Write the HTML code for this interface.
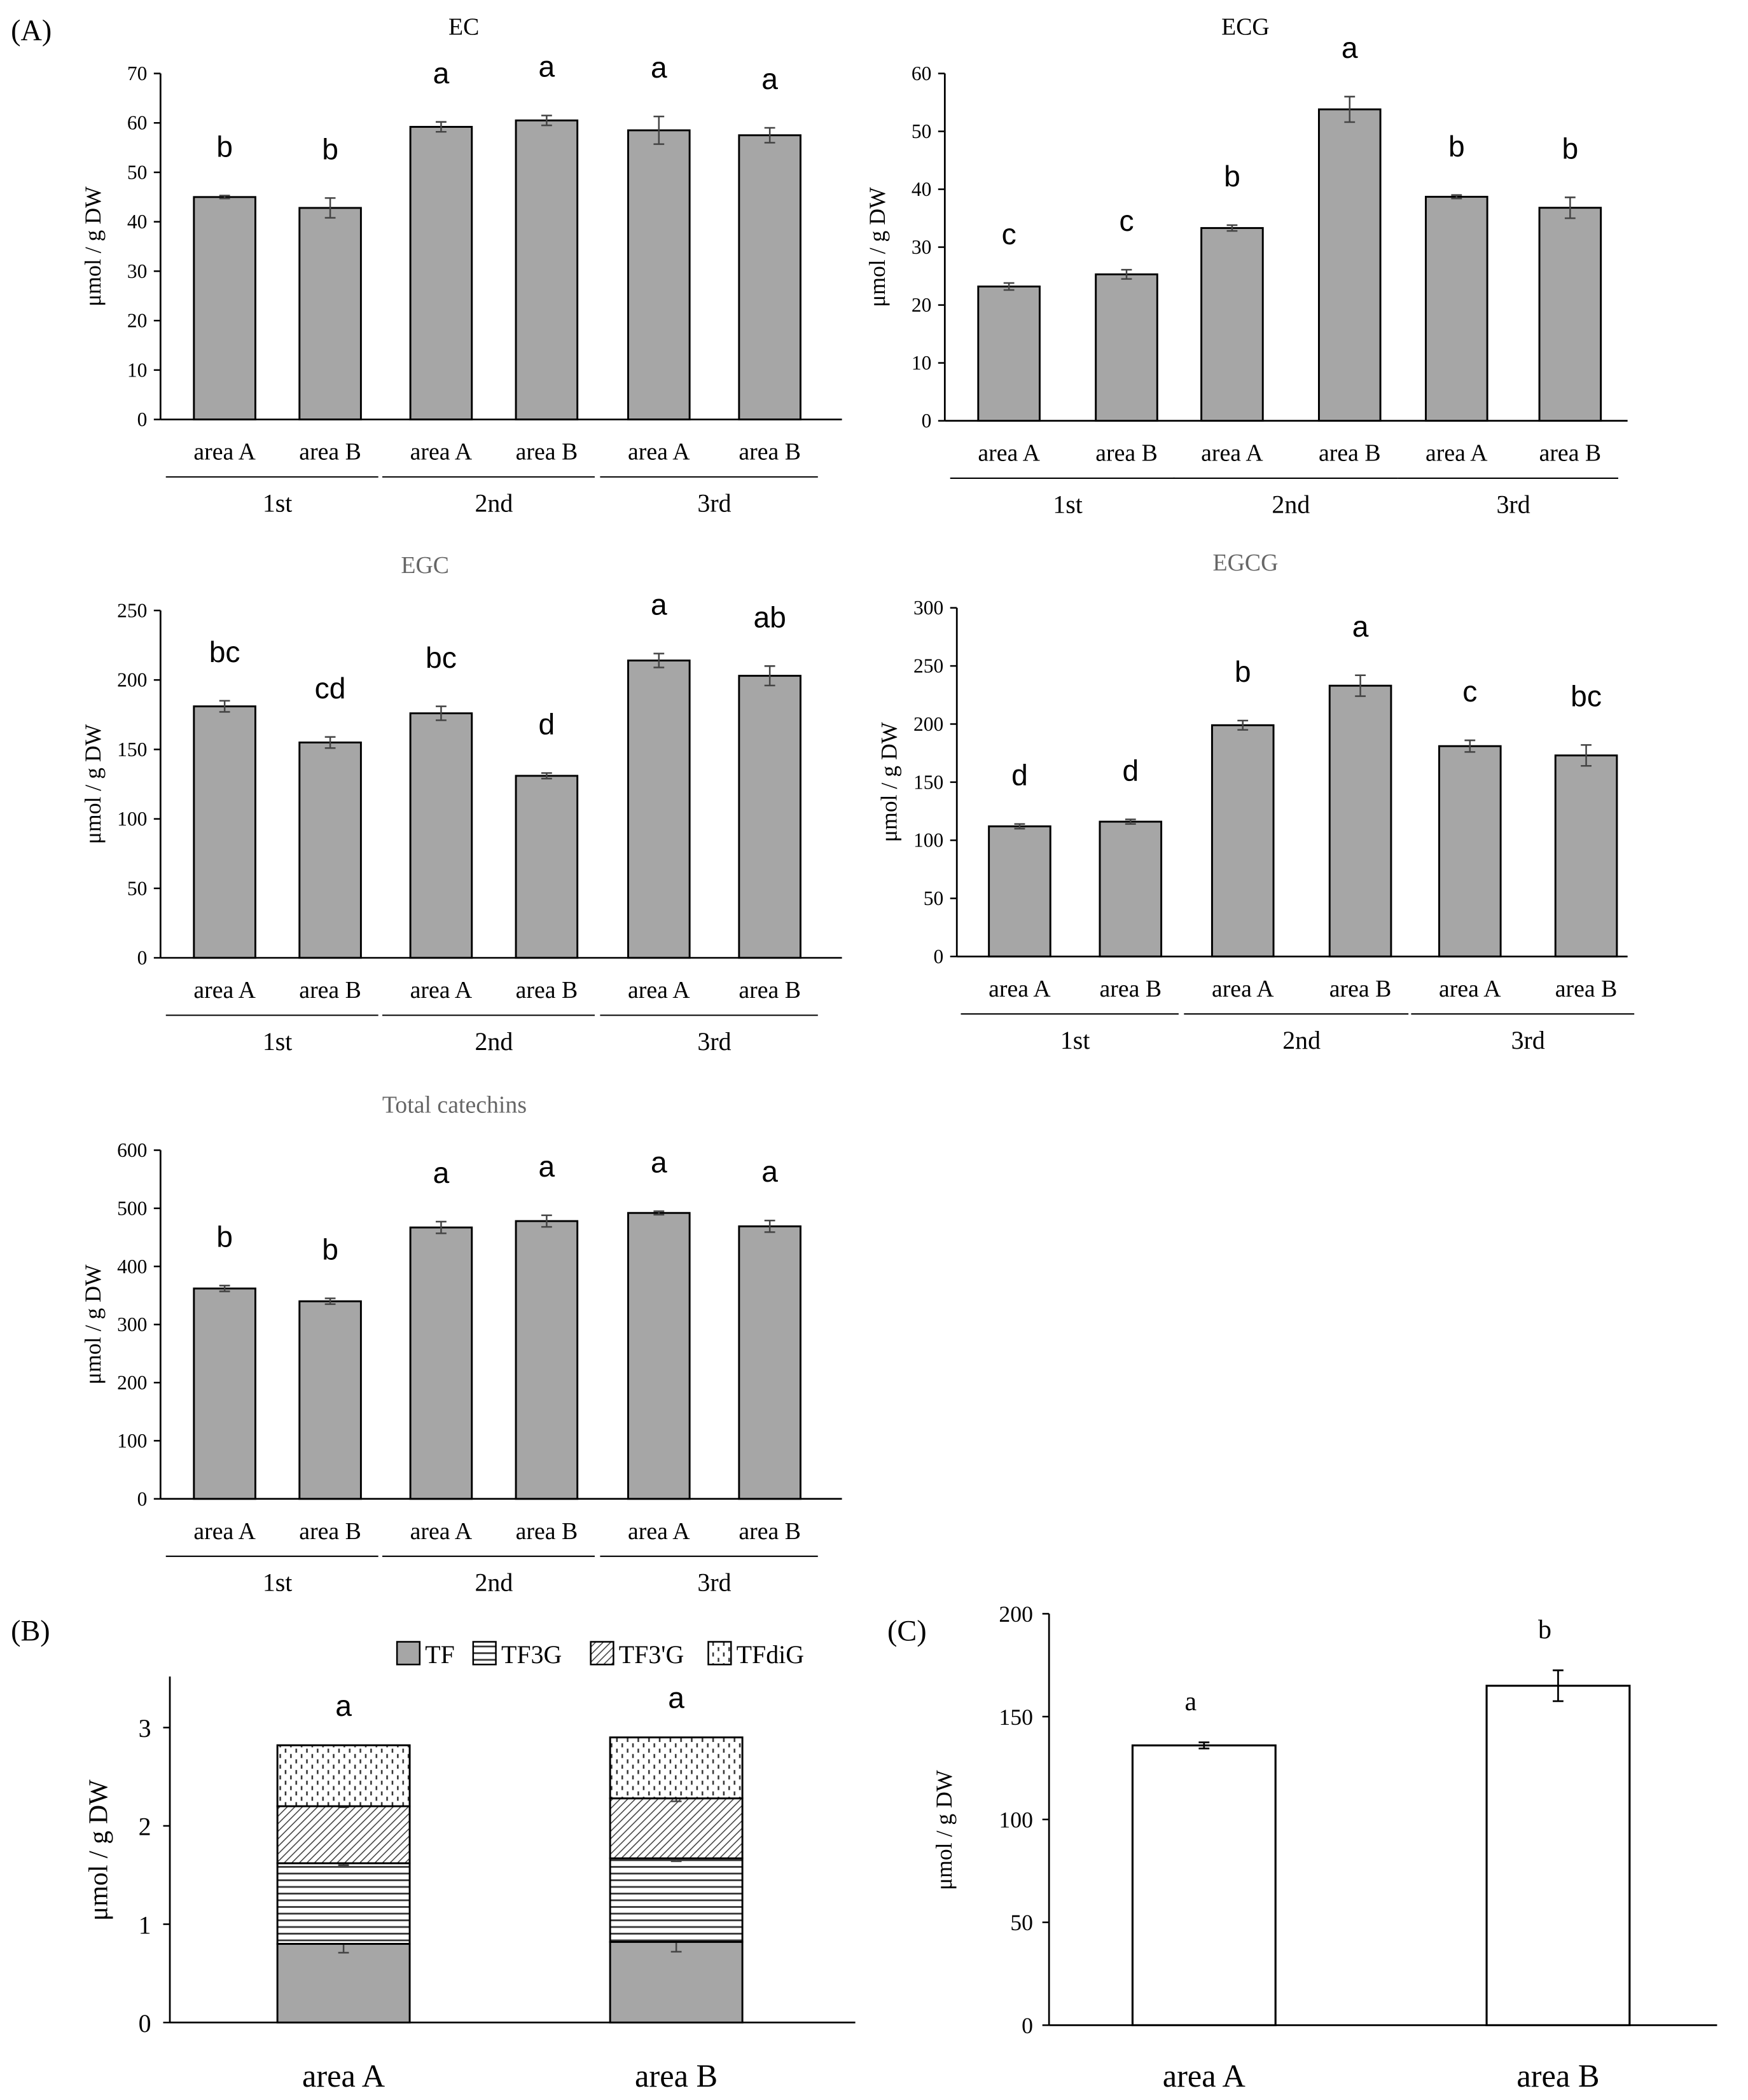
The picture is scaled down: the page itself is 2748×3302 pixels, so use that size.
<!DOCTYPE html>
<html><head><meta charset="utf-8"><style>
html,body{margin:0;padding:0;background:#fff}
svg{display:block}
</style></head><body>
<svg id="fig" width="2748" height="3302" viewBox="0 0 1308 1572" xmlns="http://www.w3.org/2000/svg">
<defs>
<pattern id="pStripe" width="6" height="5" patternUnits="userSpaceOnUse"><rect width="6" height="5" fill="#fff"/><line x1="0" y1="2.5" x2="6" y2="2.5" stroke="#333" stroke-width="1.3"/></pattern>
<pattern id="pDiag" width="4" height="4" patternUnits="userSpaceOnUse" patternTransform="rotate(45)"><rect width="4" height="4" fill="#fff"/><line x1="0" y1="0" x2="0" y2="4" stroke="#444" stroke-width="1.5"/></pattern>
<pattern id="pDot" width="8" height="8" patternUnits="userSpaceOnUse"><rect width="8" height="8" fill="#fff"/><rect x="1" y="1" width="1.2" height="3" fill="#333"/><rect x="5" y="5" width="1.2" height="3" fill="#333"/></pattern>
</defs>
<text x="8" y="30" font-family="Liberation Serif, serif" font-size="22">(A)</text>
<text x="8" y="1228" font-family="Liberation Serif, serif" font-size="22">(B)</text>
<text x="664" y="1228" font-family="Liberation Serif, serif" font-size="22">(C)</text>
</svg>
<script>
// ---- data ----
const catLabels = ["area A","area B","area A","area B","area A","area B"];
const groupLabels = ["1st","2nd","3rd"];
const ecValues = [45, 42.8, 59.2, 60.5, 58.5, 57.5];
const ecErrors = [0.3, 2, 1, 1, 2.8, 1.5];
const ecLetters = ["b","b","a","a","a","a"];
const ecgValues = [23.2, 25.3, 33.3, 53.8, 38.7, 36.8];
const ecgErrors = [0.6, 0.8, 0.5, 2.2, 0.3, 1.8];
const ecgLetters = ["c","c","b","a","b","b"];
const egcValues = [181, 155, 176, 131, 214, 203];
const egcErrors = [4, 4, 5, 2, 5, 7];
const egcLetters = ["bc","cd","bc","d","a","ab"];
const egcgValues = [112, 116, 199, 233, 181, 173];
const egcgErrors = [2, 2, 4, 9, 5, 9];
const egcgLetters = ["d","d","b","a","c","bc"];
const totalValues = [362, 340, 467, 478, 492, 469];
const totalErrors = [5, 5, 10, 10, 3, 10];
const totalLetters = ["b","b","a","a","a","a"];
const bCats = ["area A","area B"];
const bSeries = ["TF","TF3G","TF3'G","TFdiG"];
const bTF = [0.8, 0.82];
const bTF3G = [0.82, 0.85];
const bTF3pG = [0.58, 0.61];
const bTFdiG = [0.62, 0.62];
const bTFErr = [0.09, 0.1];
const bTF3GErr = [0.02, 0.03];
const bTF3pGErr = [0.01, 0.03];
const bTFdiGErr = [0.0, 0.0];
const bLetters = ["a","a"];
const cValues = [136, 165];
const cErrors = [1.5, 7.5];
const cLetters = ["a","b"];

const svg = document.getElementById('fig');
const NS = "http://www.w3.org/2000/svg";
function mk(tag, attrs, parent){ const e=document.createElementNS(NS,tag); for(const k in attrs) e.setAttribute(k,attrs[k]); (parent||svg).appendChild(e); return e; }
function txt(x,y,s,size,fam,anchor,fill,parent){ const t=mk('text',{x:x,y:y,'font-size':size,'font-family':fam,'text-anchor':anchor||'middle',fill:fill||'#000'},parent); t.textContent=s; return t; }
const SERIF="Liberation Serif, serif", SANS="Liberation Sans, sans-serif";

function panel(cfg){
  const g = mk('g',{});
  
  
  const y = v => cfg.y0 - (v/cfg.max)*(cfg.y0-cfg.yTop);
  const t = txt(cfg.titleX, cfg.titleY, cfg.title, 18, SERIF, 'middle', cfg.titleColor, g);
  
  
  const yl = txt(0,0,'μmol / g DW',17,SERIF,'middle','#000',g);
  yl.setAttribute('transform',`translate(${cfg.ax-45},${(cfg.y0+cfg.yTop)/2}) rotate(-90)`);
  
  
  mk('line',{x1:cfg.ax,y1:cfg.yTop,x2:cfg.ax,y2:cfg.y0,stroke:'#000','stroke-width':1.3},g);
  mk('line',{x1:cfg.ax,y1:cfg.y0,x2:cfg.axEnd,y2:cfg.y0,stroke:'#000','stroke-width':1.3},g);
  for(let v=0; v<=cfg.max; v+=cfg.step){
    mk('line',{x1:cfg.ax-5,y1:y(v),x2:cfg.ax,y2:y(v),stroke:'#000','stroke-width':1.2},g);
    const tl = txt(cfg.ax-10,y(v)+5,String(v),15,SERIF,'end','#000',g);
    
    
  }
  cfg.values.forEach((v,i)=>{
    const cx = cfg.centers[i], w=46;
    const b = mk('rect',{x:cx-w/2,y:y(v),width:w,height:cfg.y0-y(v),fill:'#a6a6a6',stroke:'#000','stroke-width':1.4},g);
    
    
    const e=cfg.errors[i];
    mk('line',{x1:cx,y1:y(v+e),x2:cx,y2:y(v-e),stroke:'#444','stroke-width':1.2},g);
    mk('line',{x1:cx-4,y1:y(v+e),x2:cx+4,y2:y(v+e),stroke:'#444','stroke-width':1.2},g);
    mk('line',{x1:cx-4,y1:y(v-e),x2:cx+4,y2:y(v-e),stroke:'#444','stroke-width':1.2},g);
    const lt = txt(cx,y(v+e)-29,cfg.letters[i],22,SANS,'middle','#000',g);
    
    
    const cl = txt(cx,cfg.y0+30,catLabels[i],18,SERIF,'middle','#000',g);
    
    
  });
  for(let k=0;k<3;k++){
    const a=cfg.centers[2*k]-44, b2=cfg.centers[2*k+1]+36;
    mk('line',{x1:a,y1:cfg.y0+43,x2:b2,y2:cfg.y0+43,stroke:'#000','stroke-width':1},g);
    const gl = txt((cfg.centers[2*k]+cfg.centers[2*k+1])/2,cfg.y0+69,groupLabels[k],19,SERIF,'middle','#000',g);
    
    
  }
}
const c1=[168,247,330,409,493,576];
panel({name:'ec-chart',title:'EC',titleX:347,titleY:26,titleColor:'#000',ax:120,axEnd:630,yTop:55,y0:314,max:70,step:10,centers:c1,values:ecValues,errors:ecErrors,letters:ecLetters});
panel({name:'ecg-chart',title:'ECG',titleX:932,titleY:26,titleColor:'#000',ax:707,axEnd:1218,yTop:55,y0:315,max:60,step:10,centers:[755,843,922,1010,1090,1175],values:ecgValues,errors:ecgErrors,letters:ecgLetters});
panel({name:'egc-chart',title:'EGC',titleX:318,titleY:429,titleColor:'#666',ax:120,axEnd:630,yTop:457,y0:717,max:250,step:50,centers:c1,values:egcValues,errors:egcErrors,letters:egcLetters});
panel({name:'egcg-chart',title:'EGCG',titleX:932,titleY:427,titleColor:'#666',ax:716,axEnd:1218,yTop:455,y0:716,max:300,step:50,centers:[763,846,930,1018,1100,1187],values:egcgValues,errors:egcgErrors,letters:egcgLetters});
panel({name:'total-catechins-chart',title:'Total catechins',titleX:340,titleY:833,titleColor:'#666',ax:120,axEnd:630,yTop:861,y0:1122,max:600,step:100,centers:c1,values:totalValues,errors:totalErrors,letters:totalLetters});

// ---- panel B ----
(function(){
  const g = mk('g',{});
  
  
  const ax=127, y0=1514, per=73.6;
  const y = v => y0 - v*per;
  mk('line',{x1:ax,y1:1255,x2:ax,y2:y0,stroke:'#000','stroke-width':1.3},g);
  mk('line',{x1:ax,y1:y0,x2:640,y2:y0,stroke:'#000','stroke-width':1.3},g);
  for(let v=0; v<=3; v++){
    mk('line',{x1:ax-5,y1:y(v),x2:ax,y2:y(v),stroke:'#000','stroke-width':1.2},g);
    txt(ax-14,y(v)+7,String(v),19,SERIF,'end','#000',g);
  }
  const yl = txt(0,0,'μmol / g DW',20,SERIF,'middle','#000',g);
  yl.setAttribute('transform',`translate(80,1385) rotate(-90)`);
  
  
  const fills=['#a6a6a6','url(#pStripe)','url(#pDiag)','url(#pDot)'];
  const series=[bTF,bTF3G,bTF3pG,bTFdiG];
  const errs=[bTFErr,bTF3GErr,bTF3pGErr,bTFdiGErr];
  const centers=[257,506];
  bCats.forEach((c,i)=>{
    let base=0; const cx=centers[i], w=99;
    series.forEach((s,k)=>{
      const r = mk('rect',{x:cx-w/2,y:y(base+s[i]),width:w,height:s[i]*per,fill:fills[k],stroke:'#000','stroke-width':1.4},g);
      
      
      base+=s[i];
      const e=errs[k][i];
      if(e>0){
        mk('line',{x1:cx,y1:y(base+e),x2:cx,y2:y(base-e),stroke:'#444','stroke-width':1.2},g);
        mk('line',{x1:cx-4,y1:y(base+e),x2:cx+4,y2:y(base+e),stroke:'#444','stroke-width':1.2},g);
        mk('line',{x1:cx-4,y1:y(base-e),x2:cx+4,y2:y(base-e),stroke:'#444','stroke-width':1.2},g);
      }
    });
    const lt=txt(cx,y(base)-22,bLetters[i],22,SANS,'middle','#000',g);
    
    
    const cl=txt(cx,1562,c,24,SERIF,'middle','#000',g);
    
    
  });
  const lx=[297,354,442,530];
  bSeries.forEach((s,k)=>{
    const lg = mk('g',{},g);
    
    
    mk('rect',{x:lx[k],y:1229,width:17,height:17,fill:fills[k],stroke:'#000','stroke-width':1.2},lg);
    txt(lx[k]+21,1245,s,19,SERIF,'start','#000',lg);
  });
})();

// ---- panel C ----
(function(){
  const g = mk('g',{});
  
  
  const ax=785, y0=1516, yTop=1208, max=200;
  const y = v => y0 - v/max*(y0-yTop);
  mk('line',{x1:ax,y1:yTop,x2:ax,y2:y0,stroke:'#000','stroke-width':1.3},g);
  mk('line',{x1:ax,y1:y0,x2:1285,y2:y0,stroke:'#000','stroke-width':1.3},g);
  for(let v=0; v<=max; v+=50){
    mk('line',{x1:ax-5,y1:y(v),x2:ax,y2:y(v),stroke:'#000','stroke-width':1.2},g);
    txt(ax-12,y(v)+6,String(v),17,SERIF,'end','#000',g);
  }
  const yl = txt(0,0,'μmol / g DW',17,SERIF,'middle','#000',g);
  yl.setAttribute('transform',`translate(712,1370) rotate(-90)`);
  
  
  const centers=[901,1166];
  cValues.forEach((v,i)=>{
    const cx=centers[i], w=107;
    const b=mk('rect',{x:cx-w/2,y:y(v),width:w,height:y0-y(v),fill:'#fff',stroke:'#000','stroke-width':1.5},g);
    
    
    const e=cErrors[i];
    mk('line',{x1:cx,y1:y(v+e),x2:cx,y2:y(v-e),stroke:'#000','stroke-width':1.3},g);
    mk('line',{x1:cx-4,y1:y(v+e),x2:cx+4,y2:y(v+e),stroke:'#000','stroke-width':1.3},g);
    mk('line',{x1:cx-4,y1:y(v-e),x2:cx+4,y2:y(v-e),stroke:'#000','stroke-width':1.3},g);
    const lt=txt(cx-10,y(v+e)-24,cLetters[i],20,SERIF,'middle','#000',g);
    
    
    const cl=txt(cx,1562,bCats[i],24,SERIF,'middle','#000',g);
    
    
  });
})();
</script>
</body></html>
